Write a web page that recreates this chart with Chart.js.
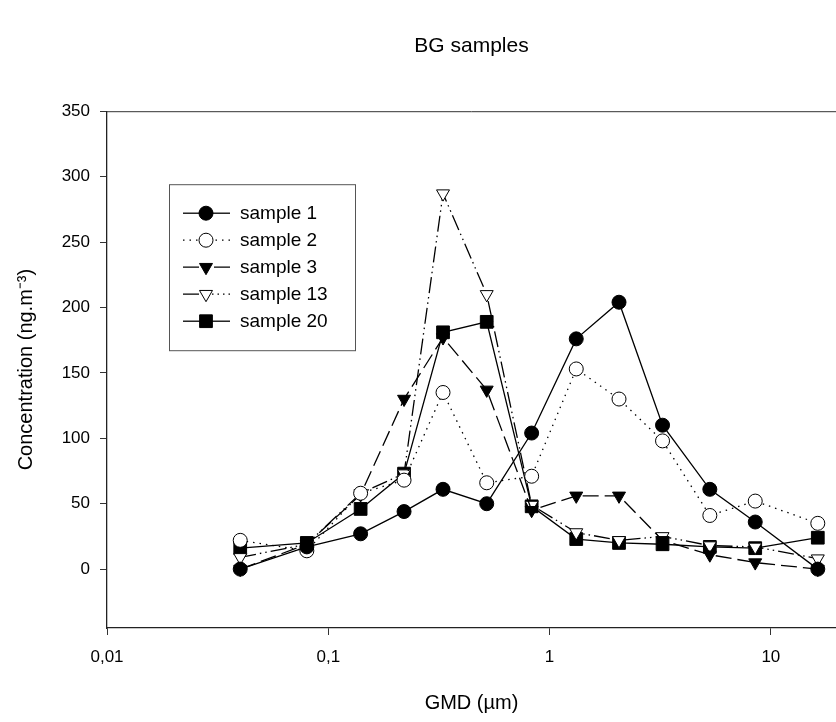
<!DOCTYPE html>
<html>
<head>
<meta charset="utf-8">
<script src="https://cdn.jsdelivr.net/npm/chart.js@4.4.1/dist/chart.umd.min.js"></script>
<style>
  html, body { margin: 0; padding: 0; background: #fff; }
  #wrap { width: 836px; height: 722px; }
</style>
</head>
<body>
<div id="wrap"><canvas id="chart" width="836" height="722"></canvas></div>
<script>
// GMD (µm) of each impactor stage
const gmd = [0.04, 0.08, 0.14, 0.22, 0.33, 0.52, 0.83, 1.32, 2.06, 3.24, 5.3, 8.5, 16.3];

const sample1  = [0, 17, 27, 44, 61, 50, 104, 176, 204, 110, 61, 36, 0];
const sample2  = [22, 14, 58, 68, 135, 66, 71, 153, 130, 98, 41, 52, 35];
const sample3  = [0, 19, 57, 130, 177, 137, 45, 56, 56, 22, 11, 5, 0];
const sample13 = [9, 19, 58, 73, 287, 210, 49, 28, 22, 25, 18, 17, 8];
const sample20 = [16, 20, 46, 73, 181, 189, 48, 23, 20, 19, 17, 16, 24];

const xTickValues = [0.01, 0.1, 1, 10];
const xTickLabels = ['0,01', '0,1', '1', '10'];
const yTickValues = [0, 50, 100, 150, 200, 250, 300, 350];

const FONT = '"Liberation Sans", Arial, sans-serif';

function toPoints(ys) {
  return ys.map((y, i) => ({ x: gmd[i], y: y }));
}

function series(label, ys, style) {
  return Object.assign({
    label: label,
    data: toPoints(ys),
    borderColor: '#000',
    borderWidth: 1.3,
    pointBorderColor: '#000',
    pointBorderWidth: 1,
    pointHoverRadius: 0,
    fill: false,
    tension: 0
  }, style);
}

const datasets = [
  series('sample 1', sample1, { pointStyle: 'circle', pointRadius: 7, pointBackgroundColor: '#000' }),
  series('sample 2', sample2, { pointStyle: 'circle', pointRadius: 7, pointBackgroundColor: '#fff', borderDash: [1.5, 5] }),
  series('sample 3', sample3, { pointStyle: 'triangle', pointRotation: 180, pointRadius: 7.5, pointBackgroundColor: '#000', borderDash: [16, 6] }),
  series('sample 13', sample13, { pointStyle: 'triangle', pointRotation: 180, pointRadius: 7.5, pointBackgroundColor: '#fff', borderDash: [16, 4, 1.5, 4, 1.5, 4] }),
  series('sample 20', sample20, { pointStyle: 'rect', pointRadius: 9, pointBackgroundColor: '#000' })
];

function drawSymbol(ctx, ds, x, y) {
  ctx.save();
  ctx.fillStyle = ds.pointBackgroundColor;
  ctx.strokeStyle = '#000';
  ctx.lineWidth = 1;
  ctx.setLineDash([]);
  const r = ds.pointRadius;
  ctx.beginPath();
  if (ds.pointStyle === 'circle') {
    ctx.arc(x, y, r, 0, Math.PI * 2);
  } else if (ds.pointStyle === 'triangle') {
    const w = r * Math.sqrt(3) / 2;
    ctx.moveTo(x - w, y - r / 2);
    ctx.lineTo(x + w, y - r / 2);
    ctx.lineTo(x, y + r);
    ctx.closePath();
  } else {
    const s = r * Math.SQRT1_2;
    ctx.rect(x - s, y - s, 2 * s, 2 * s);
  }
  ctx.fill();
  ctx.stroke();
  ctx.restore();
}

function legendSegment(ctx, dash, x0, x1, y) {
  ctx.save();
  ctx.strokeStyle = '#000';
  ctx.lineWidth = 1.3;
  ctx.setLineDash(dash || []);
  ctx.beginPath();
  ctx.moveTo(x0, y);
  ctx.lineTo(x1, y);
  ctx.stroke();
  ctx.restore();
}

// frame line on top + boxed legend inside the plot
const framePlugin = {
  id: 'frame',
  afterDraw(chart) {
    const ctx = chart.ctx;
    const a = chart.chartArea;
    ctx.save();
    ctx.strokeStyle = '#333';
    ctx.lineWidth = 1;
    ctx.beginPath();
    ctx.moveTo(a.left, a.top + 0.5);
    ctx.lineTo(a.right, a.top + 0.5);
    ctx.stroke();

    const lx = a.left + 62, ly = a.top + 73, lw = 186, lh = 166;
    ctx.fillStyle = '#fff';
    ctx.fillRect(lx, ly, lw, lh);
    ctx.strokeStyle = '#555';
    ctx.strokeRect(lx + 0.5, ly + 0.5, lw, lh);

    ctx.font = '19px ' + FONT;
    ctx.textBaseline = 'middle';
    chart.data.datasets.forEach((ds, i) => {
      const y = ly + 29 + i * 27;
      const dash = ds.borderDash;
      // dash-dot line shows its dash left of the symbol and its dots right of it
      const rightDash = dash && dash.length > 2 ? dash.slice(2) : dash;
      legendSegment(ctx, dash, lx + 14, lx + 37, y);
      legendSegment(ctx, rightDash, lx + 61, lx + 37, y);
      drawSymbol(ctx, ds, lx + 37, y);
      ctx.fillStyle = '#000';
      ctx.fillText(ds.label, lx + 71, y + 1);
    });
    ctx.restore();
  }
};

new Chart(document.getElementById('chart').getContext('2d'), {
  type: 'line',
  data: { datasets: datasets },
  plugins: [framePlugin],
  options: {
    responsive: false,
    animation: false,
    events: [],
    layout: { padding: 0, autoPadding: false },
    plugins: {
      legend: { display: false },
      tooltip: { enabled: false },
      title: {
        display: true,
        text: 'BG samples',
        color: '#000',
        fullSize: false,
        font: { family: FONT, size: 21, weight: 'normal' },
        padding: { top: 34, bottom: 52 }
      }
    },
    scales: {
      x: {
        type: 'logarithmic',
        min: 0.01,
        max: 19.7,
        afterBuildTicks: (s) => { s.ticks = xTickValues.map(v => ({ value: v })); },
        afterFit: (s) => { s.height = 94; s.paddingRight = 0; },
        ticks: {
          color: '#000',
          font: { family: FONT, size: 17 },
          padding: 12,
          maxRotation: 0,
          autoSkip: false,
          callback: (v) => xTickLabels[xTickValues.indexOf(v)]
        },
        grid: { drawOnChartArea: false, drawTicks: true, tickLength: 7, color: '#333' },
        border: { display: true, color: '#222', width: 1.3 },
        title: {
          display: true,
          text: 'GMD (µm)',
          color: '#000',
          font: { family: FONT, size: 20 },
          padding: { top: 0, bottom: 7 }
        }
      },
      y: {
        type: 'linear',
        min: -45,
        max: 350,
        afterBuildTicks: (s) => { s.ticks = yTickValues.map(v => ({ value: v })); },
        afterFit: (s) => { s.width = 107; },
        ticks: {
          color: '#000',
          font: { family: FONT, size: 17 },
          padding: 10
        },
        grid: { drawOnChartArea: false, drawTicks: true, tickLength: 7, color: '#333' },
        border: { display: true, color: '#222', width: 1.3 },
        title: {
          display: true,
          text: 'Concentration (ng.m⁻³)',
          color: '#000',
          font: { family: FONT, size: 20 },
          padding: { top: 14, bottom: 0 }
        }
      }
    }
  }
});
</script>
</body>
</html>
